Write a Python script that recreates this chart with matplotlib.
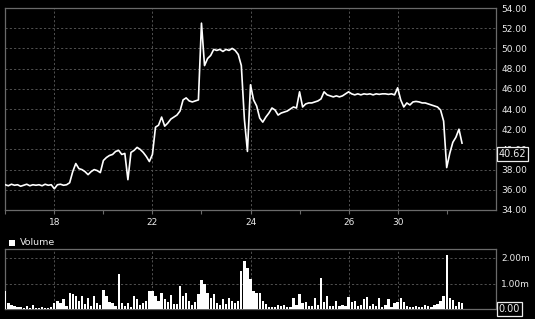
import matplotlib
matplotlib.use("Agg")
import matplotlib.pyplot as plt
import matplotlib.transforms as mtransforms
from matplotlib.patches import Rectangle

# Intraday bars, 16 bars per session
BARS_PER_SESSION = 16

price = [
    36.50, 36.40, 36.55, 36.45, 36.50, 36.35, 36.45, 36.55, 36.40, 36.50,
    36.45, 36.50, 36.40, 36.55, 36.45, 36.50, 36.10, 36.50, 36.55, 36.45,
    36.50, 36.70, 37.80, 38.60, 38.10, 38.00, 37.80, 37.50, 37.80, 38.00,
    37.90, 37.70, 38.90, 39.20, 39.40, 39.50, 39.80, 39.90, 39.50, 39.60,
    37.00, 39.70, 39.90, 40.20, 40.00, 39.70, 39.30, 38.80, 39.50, 42.20,
    42.40, 43.20, 42.30, 42.60, 43.00, 43.20, 43.40, 43.80, 44.90, 45.10,
    44.80, 44.70, 44.80, 44.90, 52.50, 48.30, 49.00, 49.30, 49.90, 49.80,
    49.90, 49.70, 49.90, 49.80, 50.00, 49.80, 49.40, 48.30, 43.00, 39.80,
    46.40, 44.90, 44.30, 43.10, 42.70, 43.20, 43.60, 44.10, 43.90, 43.40,
    43.60, 43.70, 43.80, 44.00, 44.20, 44.10, 45.70, 44.20, 44.50, 44.60,
    44.60, 44.70, 44.80, 45.00, 45.70, 45.40, 45.30, 45.20, 45.30, 45.20,
    45.30, 45.50, 45.70, 45.50, 45.40, 45.50, 45.40, 45.50, 45.45, 45.50,
    45.40, 45.50, 45.45, 45.50, 45.50, 45.45, 45.50, 45.40, 46.10, 44.90,
    44.20, 44.60, 44.40, 44.70, 44.75, 44.70, 44.60, 44.60, 44.50, 44.40,
    44.30, 44.20, 43.90, 42.80, 38.20, 39.60, 40.70, 41.20, 42.00, 40.62,
]

# volume in millions
volume = [
    0.70, 0.25, 0.15, 0.12, 0.10, 0.08, 0.06, 0.12, 0.05, 0.15,
    0.05, 0.04, 0.08, 0.05, 0.06, 0.10, 0.26, 0.32, 0.26, 0.40,
    0.13, 0.65, 0.58, 0.50, 0.32, 0.50, 0.20, 0.45, 0.13, 0.50,
    0.26, 0.15, 0.75, 0.52, 0.28, 0.23, 0.13, 1.36, 0.26, 0.13,
    0.26, 0.10, 0.52, 0.39, 0.15, 0.23, 0.32, 0.71, 0.71, 0.52,
    0.32, 0.62, 0.39, 0.28, 0.55, 0.20, 0.20, 0.90, 0.52, 0.62,
    0.32, 0.15, 0.28, 0.58, 1.14, 0.97, 0.65, 0.45, 0.58, 0.26,
    0.15, 0.39, 0.20, 0.42, 0.32, 0.26, 0.32, 1.50, 1.88, 1.62,
    1.17, 0.71, 0.65, 0.65, 0.32, 0.20, 0.10, 0.10, 0.07, 0.15,
    0.13, 0.15, 0.07, 0.10, 0.42, 0.15, 0.58, 0.26, 0.28, 0.13,
    0.13, 0.45, 0.15, 1.23, 0.28, 0.52, 0.13, 0.13, 0.32, 0.13,
    0.15, 0.13, 0.49, 0.28, 0.32, 0.13, 0.15, 0.39, 0.49, 0.13,
    0.20, 0.13, 0.42, 0.10, 0.15, 0.39, 0.10, 0.23, 0.28, 0.45,
    0.28, 0.13, 0.10, 0.10, 0.13, 0.08, 0.10, 0.18, 0.13, 0.10,
    0.15, 0.20, 0.32, 0.52, 2.10, 0.42, 0.36, 0.13, 0.28, 0.23,
]

day_labels = ['18', '22', '24', '26', '30']
day_sessions = [1, 3, 5, 7, 8]
minor_sessions = [0, 2, 4, 6, 9]
n_sessions = 10

price_ticks = [34, 36, 38, 40, 42, 44, 46, 48, 50, 52, 54]
volume_ticks = [1.0, 2.0]

BG = '#000000'
FG = '#ececec'
SPINE = '#6a6a6a'
GRID = '#505050'
FS = 6.5


def style_axes(ax):
    ax.set_facecolor(BG)
    for s in ax.spines.values():
        s.set_color(SPINE)
        s.set_linewidth(0.9)
    ax.yaxis.tick_right()
    ax.tick_params(axis='y', length=0, pad=4, labelsize=FS, colors=FG)
    ax.tick_params(axis='x', which='both', length=3, width=0.8, color=SPINE,
                   pad=3, labelsize=FS, colors=FG)
    ax.set_xlim(0, n_sessions * BARS_PER_SESSION)
    ax.set_xticks([d * BARS_PER_SESSION for d in day_sessions])
    ax.set_xticks([d * BARS_PER_SESSION for d in minor_sessions], minor=True)
    ax.grid(True, which='major', color=GRID, linestyle=(0, (2.2, 2.2)), linewidth=0.7)


def boxed_label(ax, value, text, dy):
    trans = mtransforms.blended_transform_factory(ax.transAxes, ax.transData)
    ax.annotate(text, xy=(1, value), xycoords=trans,
                xytext=(3, dy), textcoords='offset pixels',
                ha='left', va='center', fontsize=FS + 0.5, color=FG,
                annotation_clip=False, zorder=10,
                bbox=dict(boxstyle='square,pad=0.2', fc=BG, ec=FG, lw=0.9))


def main():
    x = list(range(len(price)))

    fig = plt.figure(figsize=(5.35, 3.19), dpi=100, facecolor=BG)
    ax_p = fig.add_axes([0.0099, 0.3417, 0.9167, 0.6332])
    ax_v = fig.add_axes([0.0099, 0.0304, 0.9167, 0.1881])

    # price panel
    style_axes(ax_p)
    ax_p.plot(x, price, color='white', linewidth=1.2, zorder=3)
    ax_p.set_ylim(34, 54)
    ax_p.set_yticks(price_ticks)
    ax_p.set_yticklabels([f'{v:.2f}' for v in price_ticks])
    ax_p.set_xticklabels(day_labels)
    boxed_label(ax_p, price[-1], f'{price[-1]:.2f}', -11)

    # volume panel
    style_axes(ax_v)
    ax_v.bar(x, volume, width=0.75, color='white', linewidth=0, zorder=3)
    ax_v.set_ylim(0, 2.33)
    ax_v.set_yticks(volume_ticks)
    ax_v.set_yticklabels([f'{v:.2f}m' for v in volume_ticks])
    ax_v.tick_params(axis='x', which='both', length=0, labelbottom=False)
    boxed_label(ax_v, 0, '0.00', 0)

    # legend marker + label above volume panel
    fig.patches.append(Rectangle((8.5 / 535, 1 - 246 / 319), 6.5 / 535, 6.5 / 319,
                                 transform=fig.transFigure, facecolor='white',
                                 edgecolor='none'))
    fig.text(19.5 / 535, 1 - 242.5 / 319, 'Volume', color=FG, fontsize=FS + 0.3,
             va='center', ha='left')

    fig.savefig('out.png', dpi=100, facecolor=BG)


if __name__ == "__main__":
    main()
